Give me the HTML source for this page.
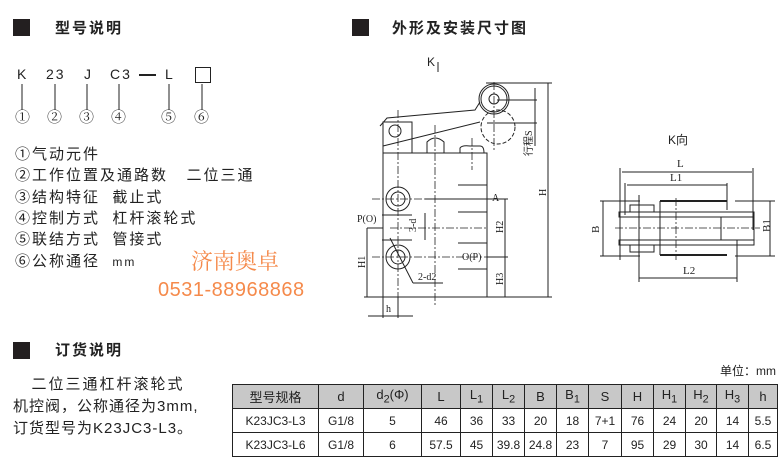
<!DOCTYPE html>
<html><head><meta charset="utf-8"><style>
body{margin:0;width:784px;height:459px;background:#fff;position:relative;overflow:hidden;font-family:"Liberation Sans","Noto Sans CJK SC",sans-serif;color:#222}
.a{position:absolute;white-space:nowrap;line-height:1}
.sq{position:absolute;width:17px;height:17px;background:#231f20}
.h{font-size:15px;font-weight:bold;letter-spacing:2px}
.li{font-size:15px;letter-spacing:2px}
table{position:absolute;left:232px;top:384px;border-collapse:collapse;font-size:12px;font-family:"Liberation Sans","Noto Sans CJK SC",sans-serif}
td{border:1px solid #222;text-align:center;padding:0;height:23px}
tr.hd td{background:#c8c8c8;font-size:13px}
</style></head><body>
<div class="sq" style="left:13px;top:19px"></div>
<div class="a h" style="left:55px;top:21px">型号说明</div>
<div class="sq" style="left:352px;top:19px"></div>
<div class="a h" style="left:392px;top:21px">外形及安装尺寸图</div>
<div class="sq" style="left:13px;top:342px"></div>
<div class="a h" style="left:55px;top:343px">订货说明</div>

<div class="a" style="font-size:14px;left:17px;top:67px">K</div>
<div class="a" style="font-size:14px;left:46px;top:67px;letter-spacing:2px">23</div>
<div class="a" style="font-size:14px;left:84px;top:67px">J</div>
<div class="a" style="font-size:14px;left:110px;top:67px;letter-spacing:2px">C3</div>
<div class="a" style="left:139px;top:74px;width:17px;height:2px;background:#222"></div>
<div class="a" style="font-size:14px;left:165px;top:67px">L</div>
<div class="a" style="left:195px;top:67px;width:14px;height:14px;border:1px solid #222"></div>
<svg class="a" style="left:0;top:0" width="784" height="459">
<g stroke="#222" stroke-width="1">
<line x1="22" y1="84" x2="22" y2="110"/><line x1="55" y1="84" x2="55" y2="110"/><line x1="87" y1="84" x2="87" y2="110"/><line x1="119" y1="84" x2="119" y2="110"/><line x1="169" y1="84" x2="169" y2="110"/><line x1="202" y1="84" x2="202" y2="110"/>
</g>
<g font-size="15" font-family="Liberation Serif,serif" text-anchor="middle" fill="#222">
</g>
<!-- side view -->
<g stroke="#222" fill="none" stroke-width="1">
<rect x="383" y="153" width="104" height="144"/>
<path d="M383 153 V122 H412 V153"/>
<path d="M380 126 L387 118 L475 110 L480 102 M383 146 L480 122"/>
<circle cx="395" cy="131" r="6"/>
<circle cx="494" cy="99" r="15"/><circle cx="494" cy="99" r="13"/><circle cx="494" cy="99" r="5"/>
<circle cx="498" cy="127" r="17" stroke-dasharray="4 2"/>
<path d="M427 153 V142 Q435 134 444 142 V153"/>
<path d="M460 153 V148 Q462 145 470 146 H480 Q484 146 484 153"/>
<circle cx="398" cy="199" r="12"/><circle cx="398" cy="199" r="7"/>
<circle cx="398" cy="257" r="12"/><circle cx="398" cy="257" r="7"/>
<line x1="458" y1="185" x2="487" y2="185"/><line x1="458" y1="212" x2="487" y2="212"/><line x1="458" y1="243" x2="487" y2="243"/><line x1="458" y1="269" x2="487" y2="269"/>
<line x1="382" y1="215" x2="412" y2="215"/><line x1="382" y1="240" x2="412" y2="240"/>
<line x1="486" y1="83" x2="552" y2="83"/><line x1="497" y1="100" x2="537" y2="100"/><line x1="487" y1="123" x2="537" y2="123"/>
<line x1="535" y1="88" x2="535" y2="146"/>
<line x1="548" y1="83" x2="548" y2="297"/><line x1="364" y1="297" x2="552" y2="297"/>
<line x1="425" y1="199" x2="508" y2="199"/><line x1="505" y1="199" x2="505" y2="297"/><line x1="487" y1="257" x2="508" y2="257"/>
<line x1="367" y1="228" x2="383" y2="228"/><line x1="367" y1="228" x2="367" y2="297"/>
<line x1="425" y1="213" x2="425" y2="240"/>
<line x1="390" y1="238" x2="413" y2="283" /><line x1="413" y1="283" x2="443" y2="283"/>
<line x1="383" y1="297" x2="383" y2="318"/><line x1="398" y1="297" x2="398" y2="318"/><line x1="368" y1="316" x2="413" y2="316"/>
<line x1="438" y1="62" x2="438" y2="72"/>
</g>
<g stroke="#222" stroke-width="0.8" stroke-dasharray="8 2 2 2" fill="none">
<line x1="398" y1="110" x2="398" y2="300"/><line x1="435" y1="125" x2="435" y2="305"/>
<line x1="372" y1="199" x2="487" y2="199"/><line x1="372" y1="257" x2="487" y2="257"/>
<line x1="390" y1="228" x2="487" y2="228"/><line x1="472" y1="138" x2="472" y2="170"/>
<line x1="494" y1="82" x2="494" y2="150"/>
</g>
<g font-family="Liberation Serif,serif" font-size="10" fill="#222">
<text x="492" y="201">A</text><text x="357" y="222">P(O)</text><text x="462" y="260">O(P)</text><text x="418" y="280">2-d2</text><text x="386" y="312">h</text>
<text x="416" y="232" transform="rotate(-90 416 232)">3-d</text>
<text x="503" y="233" transform="rotate(-90 503 233)">H2</text>
<text x="503" y="285" transform="rotate(-90 503 285)">H3</text>
<text x="365" y="268" transform="rotate(-90 365 268)">H1</text>
<text x="546" y="196" transform="rotate(-90 546 196)">H</text>
<text x="532" y="156" transform="rotate(-90 532 156)">行程S</text>
</g>
<text x="427" y="66" font-size="12" fill="#222">K</text>
<!-- K view -->
<g stroke="#222" fill="none" stroke-width="1">
<line x1="620" y1="168" x2="620" y2="260"/><line x1="753" y1="168" x2="753" y2="230"/>
<line x1="622" y1="172" x2="752" y2="172"/><line x1="627" y1="185" x2="727" y2="185"/>
<line x1="625" y1="183" x2="625" y2="215"/><line x1="727" y1="183" x2="727" y2="210"/>
<rect x="619" y="212" width="135" height="5"/><rect x="619" y="240" width="135" height="5"/>
<rect x="630" y="205" width="24" height="7"/><rect x="630" y="245" width="24" height="7"/>
<line x1="660" y1="201" x2="727" y2="201" stroke-width="2"/><line x1="660" y1="255" x2="727" y2="255" stroke-width="2"/>
<line x1="660" y1="201" x2="660" y2="255"/>
<rect x="721" y="217" width="33" height="23"/>
<line x1="600" y1="201" x2="640" y2="201"/><line x1="600" y1="256" x2="640" y2="256"/>
<line x1="603" y1="201" x2="603" y2="256"/><line x1="770" y1="201" x2="770" y2="256"/><line x1="735" y1="201" x2="775" y2="201"/><line x1="735" y1="256" x2="775" y2="256"/>
<line x1="639" y1="195" x2="639" y2="282"/><line x1="737" y1="240" x2="737" y2="282"/><line x1="639" y1="278" x2="737" y2="278"/>
</g>
<line x1="615" y1="228" x2="760" y2="228" stroke="#222" stroke-width="0.8" stroke-dasharray="8 2 2 2"/>
<line x1="676" y1="198" x2="676" y2="260" stroke="#222" stroke-width="0.8" stroke-dasharray="8 2 2 2"/>
<g font-family="Liberation Serif,serif" font-size="11" fill="#222">
<text x="677" y="167">L</text><text x="670" y="181">L1</text><text x="683" y="274">L2</text>
<text x="597" y="235" transform="rotate(-90 597 233)">B</text><text x="766" y="236" transform="rotate(-90 766 232)">B1</text>
</g>
<text x="668" y="144" font-size="12" fill="#222" font-family="Liberation Sans,Noto Sans CJK SC,sans-serif">K向</text>
</svg>
<div class="a" style="font-size:15px;left:15px;top:111px;font-family:'Liberation Serif','Noto Serif CJK SC',serif">①</div>
<div class="a" style="font-size:15px;left:47px;top:111px;font-family:'Liberation Serif','Noto Serif CJK SC',serif">②</div>
<div class="a" style="font-size:15px;left:79px;top:111px;font-family:'Liberation Serif','Noto Serif CJK SC',serif">③</div>
<div class="a" style="font-size:15px;left:111px;top:111px;font-family:'Liberation Serif','Noto Serif CJK SC',serif">④</div>
<div class="a" style="font-size:15px;left:161px;top:111px;font-family:'Liberation Serif','Noto Serif CJK SC',serif">⑤</div>
<div class="a" style="font-size:15px;left:194px;top:111px;font-family:'Liberation Serif','Noto Serif CJK SC',serif">⑥</div>

<div class="a li" style="left:15px;top:147px">①气动元件</div>
<div class="a li" style="left:15px;top:168px">②工作位置及通路数&nbsp;&nbsp;&nbsp;二位三通</div>
<div class="a li" style="left:15px;top:190px">③结构特征&nbsp;&nbsp;截止式</div>
<div class="a li" style="left:15px;top:211px">④控制方式&nbsp;&nbsp;杠杆滚轮式</div>
<div class="a li" style="left:15px;top:232px">⑤联结方式&nbsp;&nbsp;管接式</div>
<div class="a li" style="left:15px;top:254px">⑥公称通径&nbsp;&nbsp;<span style="font-size:12px">mm</span></div>

<div class="a" style="left:191px;top:251px;font-size:22px;color:#f58a4b;font-family:'Liberation Serif','Noto Serif CJK SC',serif">济南奥卓</div>
<div class="a" style="left:158px;top:280px;font-size:20px;color:#f58a4b;letter-spacing:0.5px">0531-88968868</div>

<div class="a li" style="left:13px;top:377px">&nbsp;&nbsp;&nbsp;二位三通杠杆滚轮式</div>
<div class="a li" style="left:13px;top:399px;letter-spacing:1px">机控阀，公称通径为3mm,</div>
<div class="a li" style="left:13px;top:421px;letter-spacing:1px">订货型号为K23JC3-L3。</div>

<div class="a" style="right:8px;top:365px;font-size:12px">单位：mm</div>
<table>
<tr class="hd"><td style="width:85px">型号规格</td><td style="width:44px">d</td><td style="width:57px">d<sub>2</sub>(Φ)</td><td style="width:38px">L</td><td style="width:31px">L<sub>1</sub></td><td style="width:31px">L<sub>2</sub></td><td style="width:31px">B</td><td style="width:31px">B<sub>1</sub></td><td style="width:32px">S</td><td style="width:31px">H</td><td style="width:31px">H<sub>1</sub></td><td style="width:30px">H<sub>2</sub></td><td style="width:31px">H<sub>3</sub></td><td style="width:28px">h</td></tr>
<tr><td>K23JC3-L3</td><td>G1/8</td><td>5</td><td>46</td><td>36</td><td>33</td><td>20</td><td>18</td><td>7+1</td><td>76</td><td>24</td><td>20</td><td>14</td><td>5.5</td></tr>
<tr><td>K23JC3-L6</td><td>G1/8</td><td>6</td><td>57.5</td><td>45</td><td>39.8</td><td>24.8</td><td>23</td><td>7</td><td>95</td><td>29</td><td>30</td><td>14</td><td>6.5</td></tr>
</table>
</body></html>
